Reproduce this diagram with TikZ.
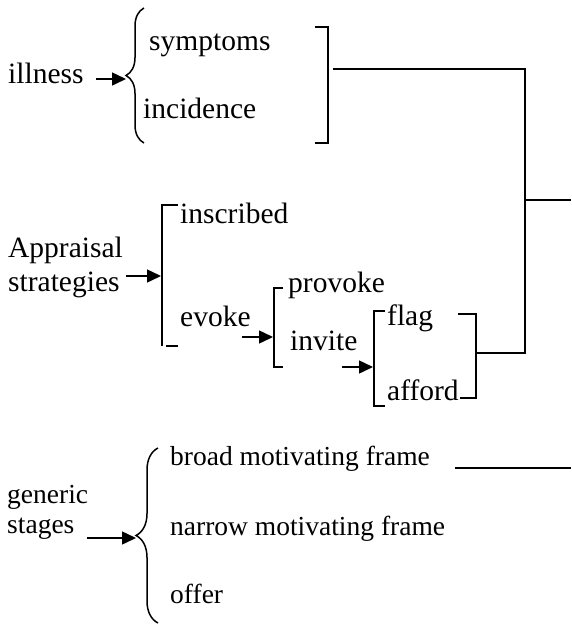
\documentclass[tikz,border=0pt]{standalone}
\usepackage{fontspec}
\setmainfont{Liberation Serif}
\usetikzlibrary{arrows.meta, decorations.pathreplacing}
\usetikzlibrary{positioning}
\tikzstyle{term} = [
    anchor=base west,
    inner sep=0pt,
    font=\fontsize{29.5}{34}\selectfont
]
\tikzstyle{small_term} = [
    anchor=base west,
    inner sep=0pt,
    font=\fontsize{27.5}{30}\selectfont
]
\tikzstyle{choice} = [
    -{Triangle[length=14pt, width=13pt]},
    line width=1.5pt
]
\tikzstyle{bar} = [
    line width=1.5pt
]
\tikzset{
    curly/.style={
        line width=1.5pt,
        decorate,
        decoration={brace, amplitude=#1, aspect=0.5}
    }
}

\begin{document}
\begin{tikzpicture}[x=1pt, y=-1pt]
\useasboundingbox (0,0) rectangle (571,624);

% illness
\node [term] (illness) at (8,83) {illness};
\node [term] (symptoms) at (149,50) {symptoms};
\node [term] (incidence) at (143,118) {incidence};
\coordinate (ill_from) at (96,79);
\coordinate (ill_tip) at (126,79);
\draw [curly=18pt] (144,143) -- (144,8);
\draw [choice] (ill_from) -- (ill_tip);
\draw [bar] (315,27) -- (328,27) -- (328,143) -- (315,143);

% appraisal strategies
\node [term] (appraisal) at (8,257) {Appraisal};
\node [term] (strategies) at (8,291) {strategies};
\node [term] (inscribed) at (180,223) {inscribed};
\node [term] (evoke) at (180,326) {evoke};
\node [term] (provoke) at (288,292) {provoke};
\node [term] (invite) at (290,350) {invite};
\node [term] (flag) at (387,325) {flag};
\node [term] (afford) at (387,400) {afford};
\coordinate (app_from) at (126,276);
\coordinate (app_to) at (161,276);
\coordinate (evoke_from) at (242,337);
\coordinate (evoke_to) at (273,337);
\coordinate (invite_from) at (342,367);
\coordinate (invite_to) at (373,367);
\draw [choice] (app_from) -- (app_to);
\draw [choice] (evoke_from) -- (evoke_to);
\draw [choice] (invite_from) -- (invite_to);
\draw [bar] (178,205) -- (162,205) -- (162,346);
\draw [bar] (166,346) -- (178,346);
\draw [bar] (283,288) -- (274,288) -- (274,367) -- (283,367);
\draw [bar] (385,311) -- (374,311) -- (374,406) -- (385,406);
\draw [bar] (458,314) -- (476,314) -- (476,398) -- (460,398);

% joining the systems
\coordinate (ill_out) at (333,69);
\coordinate (join_top) at (525,69);
\coordinate (join_mid) at (525,200);
\coordinate (join_bot) at (525,353);
\coordinate (flag_out) at (476,353);
\coordinate (join_end) at (571,200);
\draw [bar] (ill_out) -- (join_top) -- (join_bot) -- (flag_out);
\draw [bar] (join_mid) -- (join_end);

% generic stages
\node [small_term] (generic) at (7,503) {generic};
\node [small_term] (stages) at (7,533) {stages};
\node [small_term] (broad) at (170,465) {broad motivating frame};
\node [small_term] (narrow) at (170,535) {narrow motivating frame};
\node [small_term] (offer) at (170,603) {offer};
\coordinate (gen_from) at (87,538);
\coordinate (gen_tip) at (136,538);
\coordinate (broad_out) at (455,468);
\coordinate (broad_end) at (571,468);
\draw [curly=22pt] (158,623) -- (158,448);
\draw [choice] (gen_from) -- (gen_tip);
\draw [bar] (broad_out) -- (broad_end);
\end{tikzpicture}
\end{document}
